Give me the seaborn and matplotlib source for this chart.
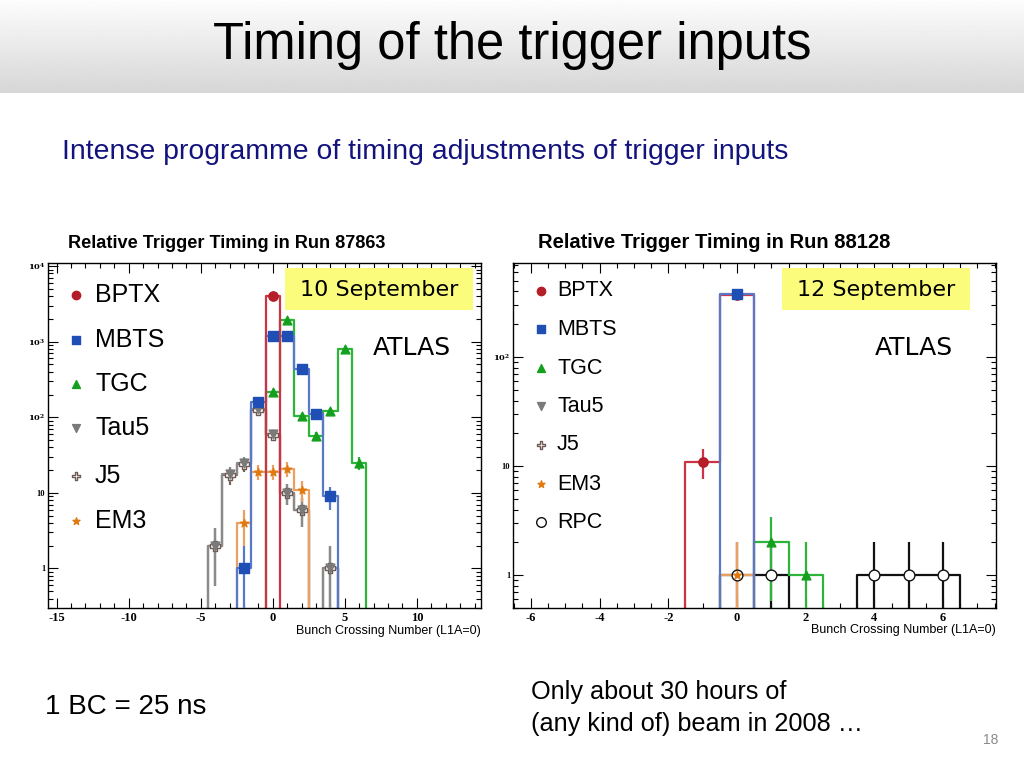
import numpy as np
import matplotlib
matplotlib.use("Agg")
import matplotlib.pyplot as plt
from matplotlib.patches import Rectangle
import seaborn as sns

# Run 87863 (10 September): bunch crossing -> entries
bptx_a_x = [0]
bptx_a_n = [4000]
mbts_a_x = [-2, -1, 0, 1, 2, 3, 4]
mbts_a_n = [1, 160, 1200, 1200, 430, 110, 9]
tgc_a_x = [0, 1, 2, 3, 4, 5, 6]
tgc_a_n = [215, 1950, 103, 56, 120, 800, 25]
tau5_a_x = [-4, -3, -2, -1, 0, 1, 2, 3, 4]
tau5_a_n = [2, 18, 25, 130, 60, 10, 6, 0, 1]
j5_a_x = [-4, -3, -2, -1, 0, 1, 2, 3, 4]
j5_a_n = [2, 17, 24, 125, 58, 10, 6, 0, 1]
em3_a_x = [-2, -1, 0, 1, 2]
em3_a_n = [4, 19, 19, 21, 11]

# Run 88128 (12 September)
rpc_b_x = [0, 1, 2, 3, 4, 5, 6]
rpc_b_n = [1, 1, 0, 0, 1, 1, 1]
bptx_b_x = [-1, 0]
bptx_b_n = [11, 375]
mbts_b_x = [0]
mbts_b_n = [380]
tgc_b_x = [1, 2]
tgc_b_n = [2, 1]
em3_b_x = [0]
em3_b_n = [1]

legend_a = ["BPTX", "MBTS", "TGC", "Tau5", "J5", "EM3"]
legend_b = ["BPTX", "MBTS", "TGC", "Tau5", "J5", "EM3", "RPC"]

yticks_a = [1, 10, 100, 1000, 10000]
yticks_b = [1, 10, 100]
ylabels_a = ["1", "10", r"$\mathbf{10^{2}}$", r"$\mathbf{10^{3}}$", r"$\mathbf{10^{4}}$"]
ylabels_b = ["1", "10", r"$\mathbf{10^{2}}$"]

# name: (marker, marker face, marker edge, line colour, size)
style = {
    "BPTX": ("o", "#b41e28", "#b41e28", "#cc3344", 45),
    "MBTS": ("s", "#1f4fb4", "#1f4fb4", "#5a78c8", 45),
    "TGC": ("^", "#14a01e", "#14a01e", "#2cb53a", 40),
    "Tau5": ("v", "#7a7a7a", "#7a7a7a", "#8a8a8a", 40),
    "J5": ("P", "white", "#6e5a52", "#7b6058", 45),
    "EM3": ("*", "#e07a10", "#e07a10", "#eaa060", 35),
    "RPC": ("o", "white", "#111111", "#111111", 60),
}

sns.set_theme(style="ticks")
plt.rcParams["font.family"] = ["Liberation Sans", "DejaVu Sans"]
plt.rcParams["mathtext.fontset"] = "dejavuserif"
plt.rcParams["text.color"] = "black"
plt.rcParams["xtick.color"] = "black"
plt.rcParams["ytick.color"] = "black"

W, H = 1024, 768
fig = plt.figure(figsize=(W / 100, H / 100), dpi=100)
fig.patch.set_facecolor("white")


def fx(px):
    return px / W


def fy(py):
    return 1 - py / H


# slide header band
hax = fig.add_axes([0, fy(93), 1, 93 / H])
grad = np.linspace(0.99, 0.84, 100)[:, None]
hax.imshow(grad, cmap="gray", vmin=0, vmax=1, aspect="auto", extent=[0, 1, 0, 1])
hax.axis("off")

fig.text(fx(512), fy(46), "Timing of the trigger inputs", ha="center", va="center",
         fontsize=36.5, color="black")
fig.text(fx(62), fy(152), "Intense programme of timing adjustments of trigger inputs",
         ha="left", va="center", fontsize=20.4, color="#13137e")
fig.text(fx(45), fy(707), "1 BC = 25 ns", ha="left", va="center", fontsize=20)
fig.text(fx(531), fy(692), "Only about 30 hours of", ha="left", va="center", fontsize=18.2)
fig.text(fx(531), fy(724), "(any kind of) beam in 2008 \u2026", ha="left", va="center",
         fontsize=18.2)
fig.text(fx(998), fy(740), "18", ha="right", va="center", fontsize=10, color="#8a8a8a")


def draw_series(ax, name, x, n):
    marker, face, edge, line, size = style[name]
    xs = [x[0] - 1] + list(x) + [x[-1] + 1]
    ws = [0] + list(n) + [0]
    sns.histplot(x=xs, weights=ws, discrete=True, element="step", fill=False,
                 color=line, linewidth=1.6, ax=ax)
    xv = np.array([a for a, b in zip(x, n) if b > 0], dtype=float)
    nv = np.array([b for b in n if b > 0], dtype=float)
    err = np.sqrt(nv)
    ax.errorbar(xv, nv, yerr=[np.minimum(err, nv - 1e-6), err], fmt="none",
                ecolor=line, elinewidth=1.6, capsize=0, zorder=3)
    sns.scatterplot(x=xv, y=nv, marker=marker, color=face, edgecolor=edge,
                    linewidth=1.0, s=size, ax=ax, zorder=4, legend=False)


def frame(ax, xlim, ylim, xmaj, xmin, yticks, ylabels):
    ax.set_yscale("log")
    ax.set_xlim(*xlim)
    ax.set_ylim(*ylim)
    ax.set_xticks(xmaj)
    ax.set_xticks(xmin, minor=True)
    ax.set_xticklabels([str(v) for v in xmaj], fontsize=9, fontweight="bold",
                       family="Liberation Serif")
    ax.set_yticks(yticks)
    ax.set_yticklabels(ylabels, fontsize=6, fontweight="bold", family="Liberation Serif")
    ax.tick_params(which="both", direction="in", top=True, right=True, width=0.8)
    ax.tick_params(which="major", length=7, pad=2)
    ax.tick_params(which="minor", length=3.5)
    ax.tick_params(axis="x", which="major", pad=3)
    ax.set_xlabel("")
    ax.set_ylabel("")
    for s in ax.spines.values():
        s.set_linewidth(1.0)
        s.set_color("black")
    ax.set_facecolor("white")


def legend(ax, names, x_marker, x_text, ys, fs):
    for name, py in zip(names, ys):
        marker, face, edge, line, size = style[name]
        ax.scatter([fx(x_marker)], [fy(py)], marker=marker, c=face, edgecolors=edge,
                   linewidths=1.0, s=size * 0.8, transform=fig.transFigure, clip_on=False,
                   zorder=5)
        ax.text(fx(x_text), fy(py), name, transform=fig.transFigure, ha="left",
                va="center", fontsize=fs)


def label_box(ax, x0, x1, y0, y1, date, atlas_x, atlas_y):
    fig.patches.append(Rectangle((fx(x0), fy(y1)), fx(x1) - fx(x0), fy(y0) - fy(y1),
                                 transform=fig.transFigure, facecolor="#fbfb7c",
                                 edgecolor="none", zorder=3))
    fig.text(fx((x0 + x1) / 2), fy((y0 + y1) / 2 + 1), date, ha="center", va="center",
             fontsize=16, family="DejaVu Sans", zorder=4)
    fig.text(fx(atlas_x), fy(atlas_y), "ATLAS", ha="center", va="center",
             fontsize=18, family="DejaVu Sans")


# left panel: run 87863
ax1 = fig.add_axes([fx(48), fy(608), 433 / W, 345 / H])
draw_series(ax1, "J5", j5_a_x, j5_a_n)
draw_series(ax1, "Tau5", tau5_a_x, tau5_a_n)
draw_series(ax1, "EM3", em3_a_x, em3_a_n)
draw_series(ax1, "TGC", tgc_a_x, tgc_a_n)
draw_series(ax1, "MBTS", mbts_a_x, mbts_a_n)
draw_series(ax1, "BPTX", bptx_a_x, bptx_a_n)
frame(ax1, (-15.6, 14.45), (0.3, 1.1e4), [-15, -10, -5, 0, 5, 10],
      np.arange(-15, 15, 1), yticks_a, ylabels_a)
legend(ax1, legend_a, 76, 95, [295, 340, 384, 428, 476, 521], 18)
fig.text(fx(68), fy(244), "Relative Trigger Timing in Run 87863", ha="left",
         va="center", fontsize=13.1, fontweight="bold")
fig.text(fx(481), fy(631), "Bunch Crossing Number (L1A=0)", ha="right", va="center",
         fontsize=9)
label_box(ax1, 285, 473, 268, 310, "10 September", 412, 348)

# right panel: run 88128
ax2 = fig.add_axes([fx(513), fy(608), 483 / W, 345 / H])
draw_series(ax2, "RPC", rpc_b_x, rpc_b_n)
draw_series(ax2, "EM3", em3_b_x, em3_b_n)
draw_series(ax2, "TGC", tgc_b_x, tgc_b_n)
draw_series(ax2, "BPTX", bptx_b_x, bptx_b_n)
draw_series(ax2, "MBTS", mbts_b_x, mbts_b_n)
frame(ax2, (-6.52, 7.54), (0.5, 730), [-6, -4, -2, 0, 2, 4, 6],
      np.arange(-6.5, 7.6, 0.5), yticks_b, ylabels_b)
legend(ax2, legend_b, 541, 557, [291, 329, 368, 406, 445, 484, 522], 15.5)
fig.text(fx(538), fy(243), "Relative Trigger Timing in Run 88128", ha="left",
         va="center", fontsize=14.5, fontweight="bold")
fig.text(fx(996), fy(630), "Bunch Crossing Number (L1A=0)", ha="right", va="center",
         fontsize=9)
label_box(ax2, 782, 970, 268, 310, "12 September", 914, 348)

fig.savefig("out.png", dpi=100)
